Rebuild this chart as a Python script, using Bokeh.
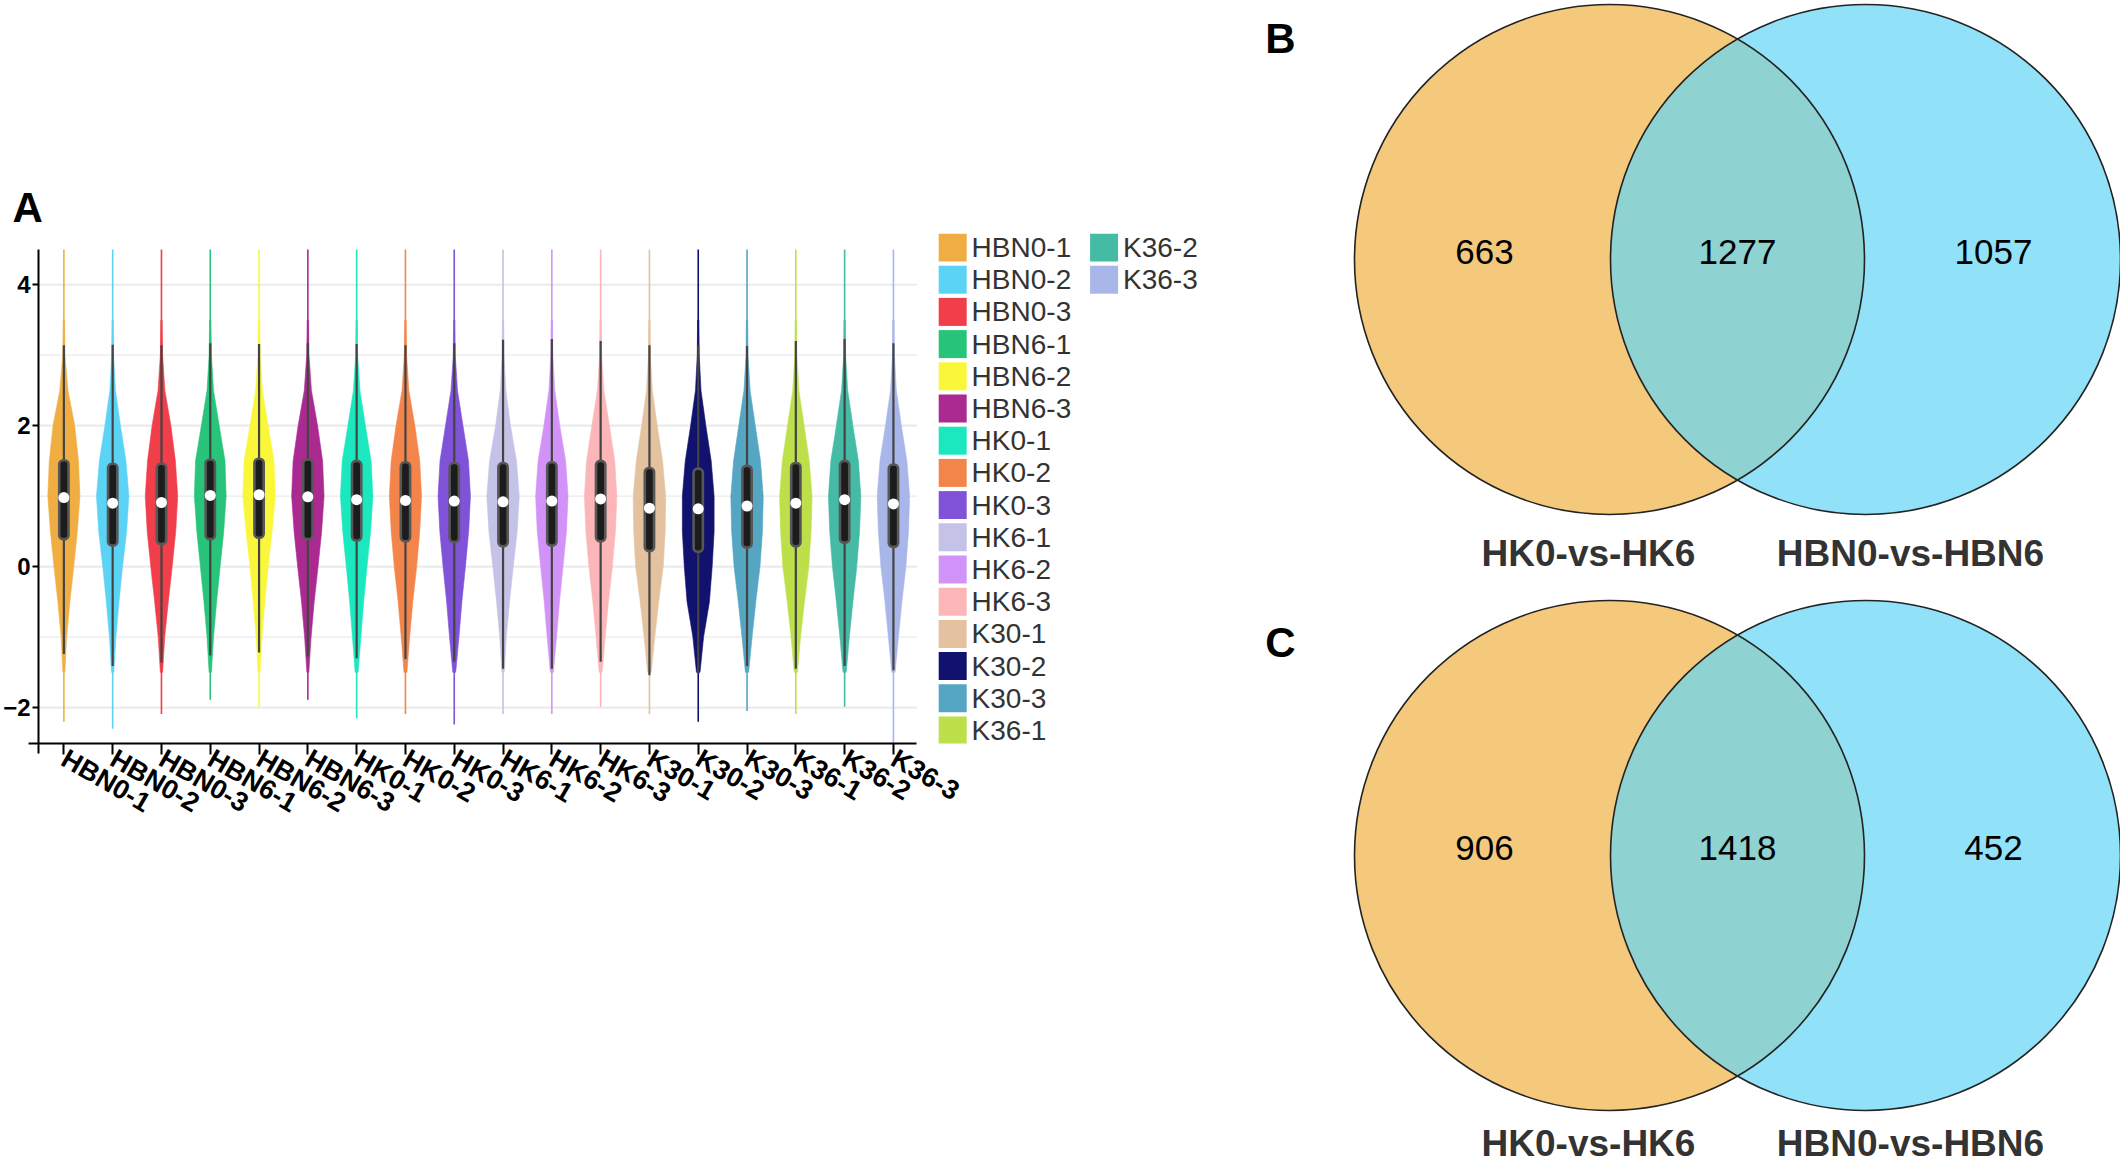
import math
from bokeh.plotting import figure
from bokeh.layouts import row, column
from bokeh.models import Range1d, FixedTicker
from bokeh.core.properties import value
from bokeh.embed import file_html
from bokeh.resources import INLINE

# ---------------- data: panel A (violins) ----------------
samples = ["HBN0-1", "HBN0-2", "HBN0-3", "HBN6-1", "HBN6-2", "HBN6-3",
           "HK0-1", "HK0-2", "HK0-3", "HK6-1", "HK6-2", "HK6-3",
           "K30-1", "K30-2", "K30-3", "K36-1", "K36-2", "K36-3"]
colors = ["#F0AE42", "#5BD3F5", "#F03E4A", "#27C47A", "#FAF73A", "#AB2A92",
          "#1CE8C0", "#F3854A", "#7F52D8", "#C4C2E6", "#D293F8", "#FBB6B8",
          "#E4C2A0", "#11116E", "#54A6C2", "#BDE04A", "#45BBA5", "#A9B6EA"]
medians = [0.98, 0.90, 0.91, 1.01, 1.02, 0.99, 0.95, 0.94, 0.93,
           0.92, 0.93, 0.96, 0.83, 0.82, 0.86, 0.90, 0.95, 0.89]
q1 = [0.39, 0.30, 0.32, 0.39, 0.41, 0.39, 0.37, 0.36, 0.35,
      0.29, 0.30, 0.36, 0.22, 0.21, 0.27, 0.29, 0.34, 0.28]
q3 = [1.51, 1.46, 1.46, 1.52, 1.53, 1.52, 1.50, 1.48, 1.47,
      1.47, 1.48, 1.50, 1.40, 1.39, 1.43, 1.47, 1.50, 1.45]
whisker_low = [-1.24, -1.41, -1.36, -1.26, -1.22, -1.28, -1.30, -1.31, -1.35,
               -1.45, -1.45, -1.35, -1.54, -1.52, -1.41, -1.45, -1.41, -1.47]
whisker_high = [3.14, 3.15, 3.14, 3.17, 3.16, 3.17, 3.16, 3.14, 3.17,
                3.22, 3.23, 3.20, 3.14, 3.14, 3.13, 3.20, 3.23, 3.17]
violin_min = [-2.20, -2.30, -2.09, -1.89, -2.00, -1.89, -2.15, -2.09, -2.24,
              -2.09, -2.09, -1.99, -2.09, -2.20, -2.05, -2.09, -1.99, -2.51]
# tails run past the top of the axis (cut at the axis limit 4.5)
violin_max = [4.50, 4.50, 4.50, 4.50, 4.50, 4.50, 4.50, 4.50, 4.50,
              4.50, 4.50, 4.50, 4.50, 4.50, 4.50, 4.50, 4.50, 4.50]

# relative violin width (1 = widest) at these expression levels
density_levels = [-1.5, -1.0, -0.5, 0.0, 0.5, 1.0, 1.5, 2.0, 2.5, 3.0, 3.5]
d_HBN0_1 = [0.06, 0.17, 0.37, 0.61, 0.83, 0.99, 0.90, 0.67, 0.25, 0.07, 0.04]
d_HBN0_2 = [0.07, 0.20, 0.39, 0.61, 0.86, 1.00, 0.82, 0.48, 0.17, 0.06, 0.04]
d_HBN0_3 = [0.07, 0.20, 0.42, 0.66, 0.88, 1.00, 0.86, 0.58, 0.21, 0.07, 0.04]
d_HBN6_1 = [0.07, 0.20, 0.39, 0.61, 0.83, 0.98, 0.91, 0.55, 0.20, 0.07, 0.04]
d_HBN6_2 = [0.06, 0.18, 0.36, 0.56, 0.80, 1.00, 0.92, 0.56, 0.21, 0.07, 0.04]
d_HBN6_3 = [0.06, 0.20, 0.39, 0.63, 0.85, 1.00, 0.91, 0.60, 0.22, 0.07, 0.04]
d_HK0_1 = [0.09, 0.26, 0.43, 0.64, 0.86, 1.00, 0.89, 0.54, 0.20, 0.06, 0.04]
d_HK0_2 = [0.09, 0.26, 0.45, 0.69, 0.88, 0.99, 0.88, 0.58, 0.21, 0.07, 0.04]
d_HK0_3 = [0.09, 0.29, 0.47, 0.69, 0.89, 1.00, 0.88, 0.54, 0.20, 0.06, 0.04]
d_HK6_1 = [0.07, 0.20, 0.40, 0.63, 0.87, 1.00, 0.83, 0.46, 0.17, 0.06, 0.04]
d_HK6_2 = [0.09, 0.29, 0.47, 0.69, 0.90, 1.00, 0.85, 0.49, 0.18, 0.06, 0.04]
d_HK6_3 = [0.09, 0.28, 0.48, 0.72, 0.91, 1.00, 0.87, 0.54, 0.20, 0.06, 0.04]
d_K30_1 = [0.11, 0.33, 0.57, 0.85, 0.97, 1.00, 0.81, 0.48, 0.18, 0.06, 0.04]
d_K30_2 = [0.11, 0.33, 0.69, 0.86, 0.98, 0.98, 0.80, 0.47, 0.17, 0.06, 0.04]
d_K30_3 = [0.10, 0.31, 0.54, 0.80, 0.95, 1.00, 0.83, 0.51, 0.19, 0.06, 0.04]
d_K36_1 = [0.10, 0.29, 0.53, 0.80, 0.94, 1.00, 0.83, 0.51, 0.19, 0.06, 0.04]
d_K36_2 = [0.10, 0.29, 0.51, 0.75, 0.92, 1.00, 0.85, 0.51, 0.19, 0.06, 0.04]
d_K36_3 = [0.10, 0.31, 0.52, 0.77, 0.93, 1.00, 0.83, 0.49, 0.18, 0.06, 0.04]
densities = [d_HBN0_1, d_HBN0_2, d_HBN0_3, d_HBN6_1, d_HBN6_2, d_HBN6_3,
             d_HK0_1, d_HK0_2, d_HK0_3, d_HK6_1, d_HK6_2, d_HK6_3,
             d_K30_1, d_K30_2, d_K30_3, d_K36_1, d_K36_2, d_K36_3]

y_ticks = [-2, 0, 2, 4]
y_minor = [-1, 1, 3]
y_limits = (-2.51, 4.5)

# ---------------- data: panels B and C (Venn) ----------------
set_names = ["HK0-vs-HK6", "HBN0-vs-HBN6"]
venn_B_counts = [663, 1277, 1057]   # left only, shared, right only
venn_C_counts = [906, 1418, 452]

FONT_NAME = "Liberation Sans"
FONT = value(FONT_NAME)

# ---------------- panel A (violins + legend in one figure) ----------------
n = len(samples)
xs_pos = list(range(n))
A_W, TOT_H = 1240, 1164
FL, AX_R = 33, 915               # frame left, right end of the x axis (px)
AX_TOP, FT, FB = 249, 233, 743   # axis top, frame top/bottom (px)
X0, X1 = -0.52, n - 0.52         # the categorical axis extent
PPX = (AX_R - FL) / (X1 - X0)    # px per category
XE = X0 + (A_W - FL) / PPX       # frame extends right to hold the legend
Y0 = y_limits[0]
PPU = (FB - AX_TOP) / (y_limits[1] - y_limits[0])   # px per unit
Y1 = y_limits[1] + (AX_TOP - FT) / PPU

def fx(px):
    return X0 + (px - FL) / PPX

def fy(py):
    return Y1 - (py - FT) / PPU

pA = figure(width=A_W, height=TOT_H, x_range=Range1d(X0, XE),
            y_range=Range1d(Y0, Y1), toolbar_location=None,
            output_backend="svg", min_border_left=FL, min_border_right=0,
            min_border_top=FT, min_border_bottom=TOT_H - FB)
pA.outline_line_color = None
pA.background_fill_color = "white"
pA.grid.visible = False

# grid lines, limited to the violin area
pA.segment(x0=[X0] * len(y_ticks), y0=y_ticks, x1=[X1] * len(y_ticks), y1=y_ticks,
           line_color="#ebebeb", line_width=2.2)
pA.segment(x0=[X0] * len(y_minor), y0=y_minor, x1=[X1] * len(y_minor), y1=y_minor,
           line_color="#ebebeb", line_width=1.3)

half_w = 0.332
vx, vy = [], []
for i in range(n):
    d = densities[i]
    right = [i + half_w * v for v in d]
    left = [i - half_w * v for v in reversed(d)]
    vx.append(right + left)
    vy.append(list(density_levels) + list(reversed(density_levels)))
pA.patches(vx, vy, fill_color=colors, line_color=colors, line_width=0.6)
pA.segment(x0=xs_pos, y0=violin_min, x1=xs_pos, y1=violin_max,
           line_color=colors, line_width=1.6)
pA.segment(x0=xs_pos, y0=whisker_low, x1=xs_pos, y1=whisker_high,
           line_color="#444444", line_width=2.2)
pA.vbar(x=xs_pos, bottom=q1, top=q3, width=0.19, fill_color="#1c1c1c",
        line_color="#575757", line_width=2.6, border_radius=4)
pA.scatter(x=xs_pos, y=medians, size=11, fill_color="white", line_color=None)

pA.xaxis.ticker = FixedTicker(ticks=xs_pos)
pA.xaxis.major_label_overrides = {i: s for i, s in enumerate(samples)}
pA.xaxis.major_label_orientation = -math.pi / 6
pA.xaxis.minor_tick_line_color = None
pA.xaxis.bounds = (X0, X1)
pA.yaxis.ticker = FixedTicker(ticks=y_ticks)
pA.yaxis.minor_tick_line_color = None
pA.yaxis.bounds = y_limits
for ax in (pA.xaxis[0], pA.yaxis[0]):
    ax.axis_line_color = "black"
    ax.axis_line_width = 2
    ax.major_tick_line_color = "black"
    ax.major_tick_line_width = 2
    ax.major_tick_in = 0
    ax.major_label_text_font = FONT_NAME
    ax.major_label_text_font_style = "bold"
    ax.major_label_text_color = "black"
    ax.major_label_standoff = 2
pA.xaxis.major_tick_out = 11
pA.yaxis.major_tick_out = 6
pA.xaxis.major_label_text_font_size = "27px"
pA.yaxis.major_label_text_font_size = "24px"

# axis-line overhangs at the corner (as in the reference)
pA.segment(x0=[fx(23)], y0=[Y0], x1=[X0], y1=[Y0], line_color="black",
           line_width=2, level="overlay")
pA.segment(x0=[X0], y0=[Y0], x1=[X0], y1=[fy(753)], line_color="black",
           line_width=2, level="overlay")

# panel letter
pA.text(x=[fx(7)], y=[fy(207)], text=["A"], text_font=FONT, text_font_size="42px",
        text_font_style="bold", text_color="black", text_baseline="alphabetic",
        text_align="left", level="overlay")

# legend (two columns: 16 + 2)
rows_per_col = 16
leg_sq_x = [fx(951 + 152 * (i // rows_per_col)) for i in range(n)]
leg_tx_x = [fx(970 + 152 * (i // rows_per_col)) for i in range(n)]
leg_y = [fy(247 + 32.2 * (i % rows_per_col)) for i in range(n)]
pA.rect(x=leg_sq_x, y=leg_y, width=28, height=28, width_units="screen",
        height_units="screen", fill_color=colors, line_color=None)
pA.text(x=leg_tx_x, y=leg_y, text=samples, text_font=FONT, text_font_size="28px",
        text_baseline="middle", text_align="left", text_color="#333333")

# ---------------- Venn panels ----------------
def venn(y_top, height, cy, counts, letter, letter_y, label_y):
    f = figure(width=880, height=height, x_range=Range1d(1240, 2120),
               y_range=Range1d(y_top + height, y_top), toolbar_location=None,
               output_backend="svg", min_border=0,
               x_axis_location=None, y_axis_location=None)
    f.grid.visible = False
    f.outline_line_color = None
    r = 255
    cxl, cxr = 1609, 1865
    f.circle(x=[cxl], y=[cy], radius=r, fill_color="#F4C97C", line_color=None)
    f.circle(x=[cxr], y=[cy], radius=r, fill_color="#64D6F5", fill_alpha=0.71,
             line_color=None)
    f.circle(x=[cxl, cxr], y=[cy, cy], radius=r, fill_color=None,
             line_color="#232323", line_width=1.6)
    f.text(x=[1484, 1737, 1993], y=[cy - 8] * 3, text=[str(c) for c in counts],
           text_font=FONT, text_font_size="35px", text_align="center",
           text_baseline="middle", text_color="black")
    f.text(x=[1588, 1910], y=[label_y] * 2, text=set_names, text_font=FONT,
           text_font_size="37px", text_font_style="bold", text_align="center",
           text_baseline="middle", text_color="#333333")
    f.text(x=[1280], y=[letter_y], text=[letter], text_font=FONT,
           text_font_size="42px", text_font_style="bold", text_align="center",
           text_baseline="middle", text_color="black")
    return f

pB = venn(0, 594, 259, venn_B_counts, "B", 38, 553)
pC = venn(594, TOT_H - 594, 855, venn_C_counts, "C", 642, 1143)

layout = row(pA, column(pB, pC))
open("out.html", "w").write(file_html(layout, INLINE))
